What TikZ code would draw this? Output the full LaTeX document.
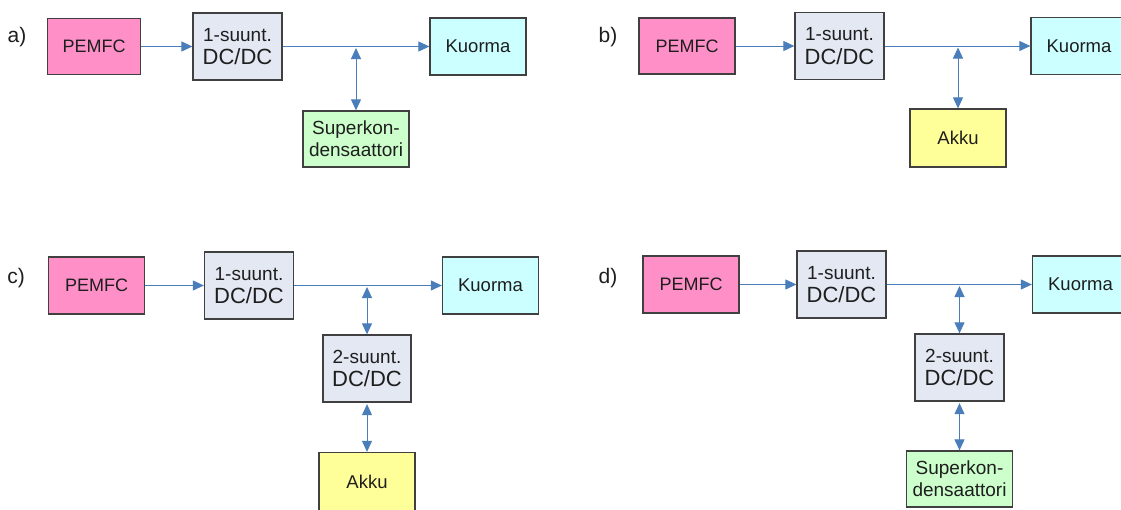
\documentclass[tikz,border=0pt]{standalone}
\usepackage{fontspec}
\setmainfont{Liberation Sans}
\usetikzlibrary{arrows.meta}
\definecolor{pemc}{HTML}{FF8FC7}
\definecolor{dcc}{HTML}{E3E8F3}
\definecolor{kuc}{HTML}{CCFFFF}
\definecolor{skc}{HTML}{CCFFCC}
\definecolor{akc}{HTML}{FFFF99}
\definecolor{bordc}{HTML}{404040}
\definecolor{linec}{HTML}{4A7EBB}
\definecolor{txtc}{HTML}{1E1E1E}
\tikzset{
  box/.style={draw=bordc, line width=1.3pt, inner sep=0pt, align=center, text=txtc},
  pembox/.style={box, fill=pemc, font=\fontsize{18}{21}\selectfont},
  dcbox/.style={box, fill=dcc, font=\fontsize{22}{23.5}\selectfont},
  kubox/.style={box, fill=kuc, font=\fontsize{18.5}{21}\selectfont},
  skbox/.style={box, fill=skc, font=\fontsize{19}{22.3}\selectfont},
  akbox/.style={box, fill=akc, font=\fontsize{18.5}{21}\selectfont},
  lbl/.style={inner sep=0pt, text=txtc, font=\fontsize{21}{24}\selectfont},
  conn/.style={draw=linec, line width=1pt, -{Triangle[length=11pt,width=10pt]}},
  biconn/.style={draw=linec, line width=1pt, {Triangle[length=11pt,width=10pt]}-{Triangle[length=11pt,width=10pt]}, shorten <=1.5pt}
}
\newcommand{\onesuunt}{{\fontsize{19}{23.5}\selectfont 1-suunt.}\\DC/DC}
\newcommand{\twosuunt}{{\fontsize{19}{23.5}\selectfont 2-suunt.}\\DC/DC}
\begin{document}
\begin{tikzpicture}[x=1pt,y=-1pt]
\clip (0,0) rectangle (1121,509);
\fill[white] (0,0) rectangle (1121,509);
% ---------------- a)
\node[lbl] (la) at (17,37) {a)};
\node[pembox, minimum width=93pt, minimum height=56pt] (pa) at (94,46.5) {PEMFC};
\node[dcbox, minimum width=89pt, minimum height=67pt] (da) at (237.5,46.5) {\onesuunt};
\node[kubox, minimum width=96pt, minimum height=57pt] (ka) at (478,46.5) {Kuorma};
\node[skbox, minimum width=106pt, minimum height=56pt] (sa) at (356,139) {Superkon-\\densaattori};
\coordinate (ja) at (sa.north |- ka.west);
\draw[conn] (pa.east) -- (da.west);
\draw[conn] (da.east) -- (ka.west);
\draw[biconn] (ja) -- (sa.north);
% ---------------- b)
\node[lbl] (lb) at (608,37) {b)};
\node[pembox, minimum width=96pt, minimum height=56pt] (pb) at (687,46) {PEMFC};
\node[dcbox, minimum width=89pt, minimum height=67pt] (db) at (839.5,46) {\onesuunt};
\node[kubox, minimum width=96pt, minimum height=57pt] (kb) at (1079,46) {Kuorma};
\node[akbox, minimum width=96pt, minimum height=58pt] (ab) at (958,138) {Akku};
\coordinate (jb) at (ab.north |- kb.west);
\draw[conn] (pb.east) -- (db.west);
\draw[conn] (db.east) -- (kb.west);
\draw[biconn] (jb) -- (ab.north);
% ---------------- c)
\node[lbl] (lc) at (16,278) {c)};
\node[pembox, minimum width=96pt, minimum height=57pt] (pc) at (96.5,285.5) {PEMFC};
\node[dcbox, minimum width=89pt, minimum height=67pt] (dc) at (249,285.5) {\onesuunt};
\node[kubox, minimum width=96pt, minimum height=57pt] (kc) at (490.5,285.5) {Kuorma};
\node[dcbox, minimum width=88pt, minimum height=67pt] (ec) at (367,368.5) {\twosuunt};
\node[akbox, minimum width=96pt, minimum height=58pt] (ac) at (367,481.5) {Akku};
\coordinate (jc) at (ec.north |- kc.west);
\draw[conn] (pc.east) -- (dc.west);
\draw[conn] (dc.east) -- (kc.west);
\draw[biconn] (jc) -- (ec.north);
\draw[biconn] (ec.south) -- (ac.north);
% ---------------- d)
\node[lbl] (ld) at (608,278) {d)};
\node[pembox, minimum width=96pt, minimum height=57pt] (pd) at (691,284.5) {PEMFC};
\node[dcbox, minimum width=89pt, minimum height=67pt] (dd) at (841.5,284.5) {\onesuunt};
\node[kubox, minimum width=96pt, minimum height=57pt] (kd) at (1080.5,284.5) {Kuorma};
\node[dcbox, minimum width=89pt, minimum height=67pt] (ed) at (959.5,367.5) {\twosuunt};
\node[skbox, minimum width=106pt, minimum height=56pt] (sd) at (959.5,479) {Superkon-\\densaattori};
\coordinate (jd) at (ed.north |- kd.west);
\draw[conn] (pd.east) -- (dd.west);
\draw[conn] (dd.east) -- (kd.west);
\draw[biconn] (jd) -- (ed.north);
\draw[biconn] (ed.south) -- (sd.north);
\end{tikzpicture}
\end{document}
